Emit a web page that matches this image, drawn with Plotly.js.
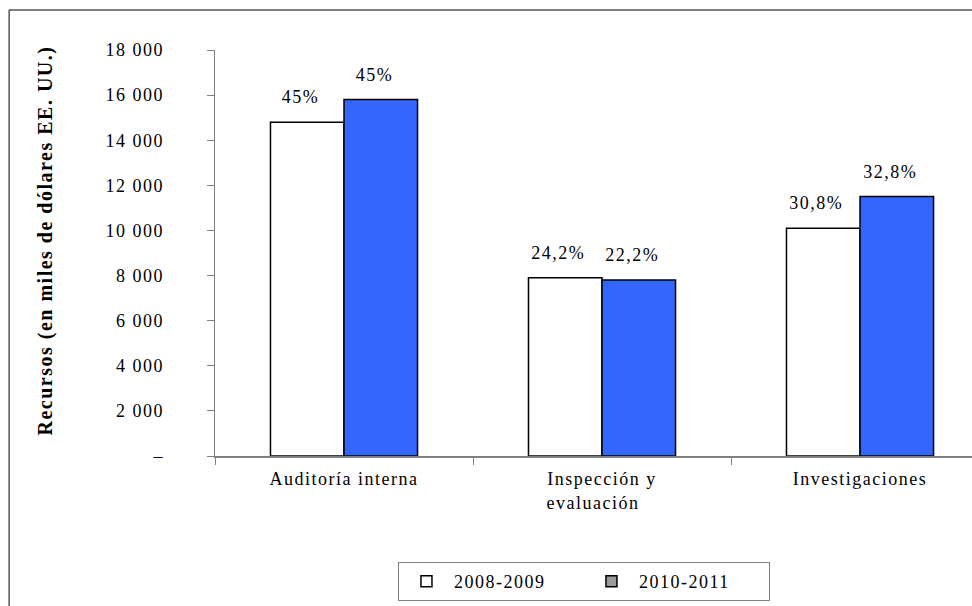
<!DOCTYPE html>
<html>
<head>
<meta charset="utf-8">
<script src="https://cdn.plot.ly/plotly-3.0.1.min.js"></script>
<style>
html,body{margin:0;padding:0;background:#fff;}
#chart{width:972px;height:606px;}
#chart text{letter-spacing:1.5px;}
</style>
</head>
<body>
<div id="chart"></div>
<script>
const categories = ["Auditoría interna", "Inspección y<br>evaluación\u00a0\u00a0\u00a0", "Investigaciones"];
const seriesNames = ["2008-2009", "2010-2011"];
const values2008 = [14800, 7900, 10100];
const values2010 = [15800, 7800, 11500];
const shares2008 = ["45%", "24,2%", "30,8%"];
const shares2010 = ["45%", "22,2%", "32,8%"];
const yTickVals = [0, 2000, 4000, 6000, 8000, 10000, 12000, 14000, 16000, 18000];
const yTickText = ["–", "2 000", "4 000", "6 000", "8 000", "10 000", "12 000", "14 000", "16 000", "18 000"];
const yTitle = "Recursos (en miles de dólares EE. UU.)";

const serif = "Liberation Serif";
const colors = ["#ffffff", "#3366ff"];
const legendColors = ["#ffffff", "#999999"];

const traces = [
  {type: "bar", x: categories, y: values2008, name: seriesNames[0], showlegend: false,
   marker: {color: colors[0], line: {color: "#000", width: 1.5}}, hoverinfo: "skip"},
  {type: "bar", x: categories, y: values2010, name: seriesNames[1], showlegend: false,
   marker: {color: colors[1], line: {color: "#000", width: 1.5}}, hoverinfo: "skip"},
  {type: "scatter", mode: "markers", x: [null], y: [null], name: seriesNames[0], showlegend: true,
   marker: {symbol: "square", size: 11, color: legendColors[0], line: {color: "#000", width: 1.5}}},
  {type: "scatter", mode: "markers", x: [null], y: [null], name: seriesNames[1], showlegend: true,
   marker: {symbol: "square", size: 11, color: legendColors[1], line: {color: "#000", width: 1.5}}}
];

const annotations = [];
categories.forEach((c, i) => {
  annotations.push({x: c, y: values2008[i], xref: "x", yref: "y", text: shares2008[i],
    showarrow: false, yanchor: "bottom", xshift: -44, yshift: 13,
    font: {family: serif, size: 18, color: "#000"}});
  annotations.push({x: c, y: values2010[i], xref: "x", yref: "y", text: shares2010[i],
    showarrow: false, yanchor: "bottom", xshift: 30, yshift: 13,
    font: {family: serif, size: 18, color: "#000"}});
});
annotations.push({xref: "paper", yref: "paper", x: -0.2246, y: 0.532, xanchor: "center", yanchor: "middle",
  text: "<b>" + yTitle + "</b>", textangle: -90, showarrow: false,
  font: {family: serif, size: 20, color: "#000"}});

const layout = {
  width: 972, height: 606,
  margin: {l: 215, r: 0, t: 50, b: 150},
  paper_bgcolor: "#fff", plot_bgcolor: "#fff",
  barmode: "group", bargap: 0.43, bargroupgap: 0,
  font: {family: serif, size: 18, color: "#000"},
  xaxis: {
    type: "category", range: [-0.5, 2.434], fixedrange: true,
    showline: true, linecolor: "#808080", linewidth: 1.5,
    ticks: "outside", tickson: "boundaries", ticklen: 7, tickcolor: "#808080",
    ticklabelstandoff: 6,
    showgrid: false, zeroline: false,
    tickfont: {family: serif, size: 18, color: "#000"}
  },
  yaxis: {
    range: [0, 18000], fixedrange: true,
    tickvals: yTickVals, ticktext: yTickText,
    showline: true, linecolor: "#808080", linewidth: 1.5,
    ticks: "outside", ticklen: 7, tickcolor: "#808080",
    ticklabelstandoff: 39,
    showgrid: false, zeroline: false,
    tickfont: {family: serif, size: 18, color: "#000"}
  },
  legend: {
    orientation: "h", x: 0.2417, xanchor: "left", y: -0.261, yanchor: "top",
    bordercolor: "#808080", borderwidth: 1, bgcolor: "#fff",
    font: {family: serif, size: 18, color: "#000"},
    itemwidth: 45,
    entrywidth: 125, entrywidthmode: "pixels", traceorder: "normal"
  },
  annotations: annotations,
  shapes: [
    {type: "rect", xref: "paper", yref: "paper", x0: -0.272, x1: 1.2, y0: -0.6, y1: 1.0985,
     line: {color: "#000", width: 1}, fillcolor: "rgba(0,0,0,0)", layer: "below"}
  ]
};

Plotly.newPlot("chart", traces, layout, {displayModeBar: false, staticPlot: true});
</script>
</body>
</html>
